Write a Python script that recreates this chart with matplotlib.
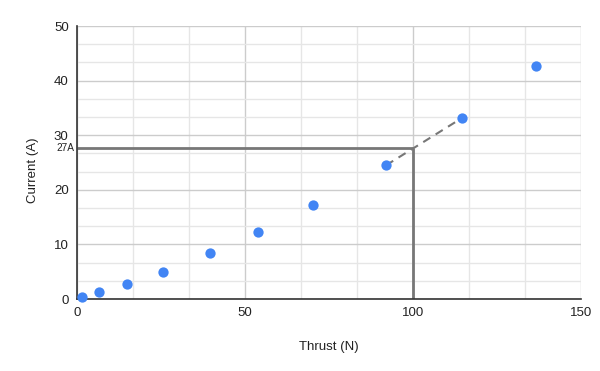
import numpy as np
import matplotlib
matplotlib.use("Agg")
from matplotlib import pyplot as plt
from matplotlib.transforms import blended_transform_factory

# data
thrust = [1.4, 6.6, 15.0, 25.5, 39.7, 53.9, 70.2, 92.0, 114.7, 136.6]
current = [0.3, 1.2, 2.8, 5.0, 8.4, 12.3, 17.2, 24.5, 33.2, 42.7]
x_ticks = [0, 50, 100, 150]
y_ticks = [0, 10, 20, 30, 40, 50]
target_thrust = 100
target_label = "27A"

plt.rcParams['font.family'] = ['Liberation Sans', 'DejaVu Sans']

fig = plt.figure(figsize=(6, 3.71), dpi=100)
ax = fig.add_axes([77/600, 72/371, 504/600, 273/371])

ax.set_xlim(0, 150)
ax.set_ylim(0, 50)

# gridlines: major darker, 3 minor subdivisions lighter
for v in np.arange(0, 150.01, 50/3):
    major = abs(v/50 - round(v/50)) < 1e-6
    ax.axvline(v, color='#cccccc' if major else '#e6e6e6', lw=1, zorder=0)
for v in np.arange(0, 50.01, 10/3):
    major = abs(v/10 - round(v/10)) < 1e-6
    ax.axhline(v, color='#cccccc' if major else '#e6e6e6', lw=1, zorder=0)

for s in ['top', 'right']:
    ax.spines[s].set_visible(False)
for s in ['left', 'bottom']:
    ax.spines[s].set_color('#333333')
    ax.spines[s].set_linewidth(1.2)

ax.set_xticks(x_ticks)
ax.set_yticks(y_ticks)
ax.tick_params(length=0, labelsize=9.5, labelcolor='#222222', pad=6)
ax.set_xlabel("Thrust (N)", fontsize=9.5, color='#222222', labelpad=15.5)
ax.set_ylabel("Current (A)", fontsize=9.5, color='#222222')
ax.yaxis.set_label_coords(-0.076, 0.47)

# interpolate current at target thrust
y_t = np.interp(target_thrust, thrust, current)
ax.plot([0, target_thrust], [y_t, y_t], color='#777777', lw=2, zorder=2,
        solid_capstyle='butt', clip_on=False)
ax.plot([target_thrust, target_thrust], [0, y_t], color='#777777', lw=2, zorder=2,
        solid_capstyle='butt')
ax.plot(thrust[7:9], current[7:9], color='#777777', lw=1.5, ls=(0, (4, 3)), zorder=2)

tr = blended_transform_factory(ax.transAxes, ax.transData)
ax.text(-0.006, y_t, target_label, transform=tr, ha='right', va='center',
        fontsize=7.3, color='#222222')

ax.scatter(thrust, current, s=55, color='#4285f4', zorder=3, clip_on=False, linewidths=0)

fig.savefig("out.png", dpi=100)
